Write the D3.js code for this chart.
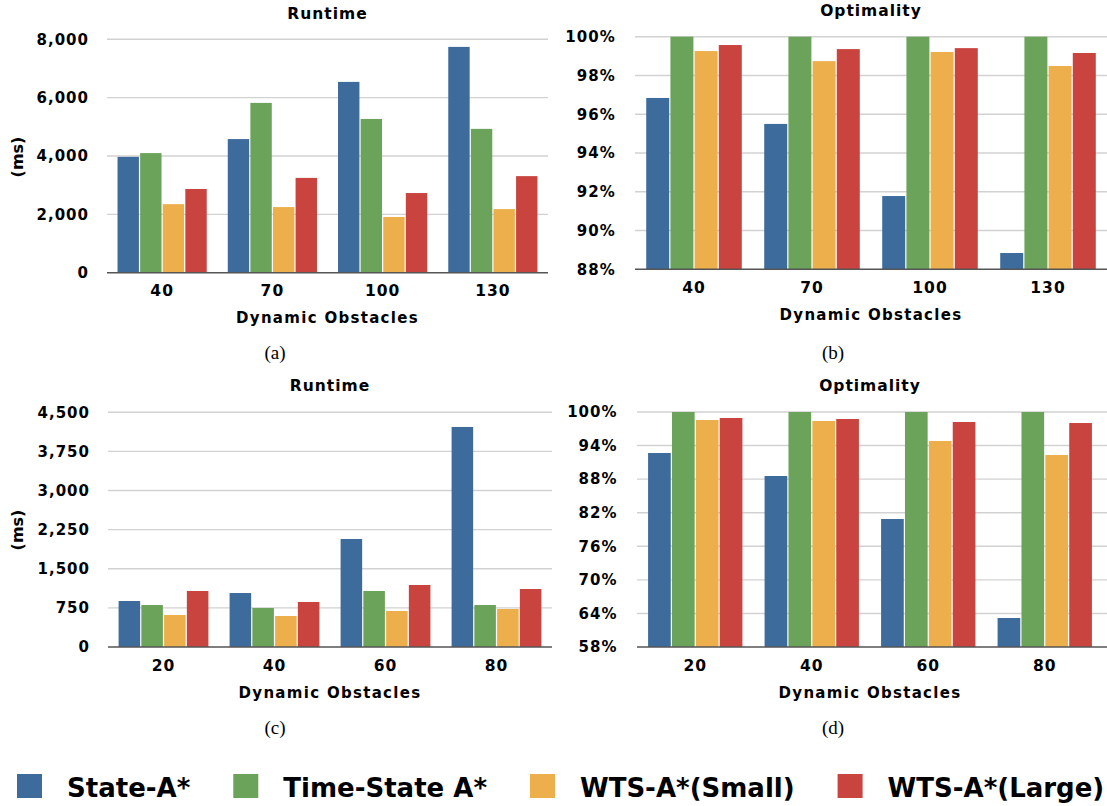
<!DOCTYPE html>
<html>
<head>
<meta charset="utf-8">
<script src="https://cdn.jsdelivr.net/npm/d3@7"></script>
<style>
  body { margin: 0; background: #fff; }
  svg text { font-family: 'DejaVu Sans', sans-serif; font-weight: bold; fill: #000; }
  svg text.caption { font-family: 'Liberation Serif', serif; font-weight: normal; }
</style>
</head>
<body>
<div id="chart-area"></div>
<script>
// SERIES
const seriesNames = ['State-A*', 'Time-State A*', 'WTS-A*(Small)', 'WTS-A*(Large)']
const seriesColors = ['#3d6b9c', '#6ca35a', '#edaf4c', '#c9433f']

// PANEL (a) - RUNTIME
const obstaclesA = ['40', '70', '100', '130']
const runtimeAState = [3970, 4580, 6540, 7740]
const runtimeATime = [4100, 5820, 5270, 4930]
const runtimeASmall = [2350, 2250, 1910, 2180]
const runtimeALarge = [2870, 3250, 2730, 3310]
const runtimeATicks = [0, 2000, 4000, 6000, 8000]

// PANEL (b) - OPTIMALITY
const obstaclesB = ['40', '70', '100', '130']
const optimalityBState = [96.84, 95.50, 91.78, 88.84]
const optimalityBTime = [100, 100, 100, 100]
const optimalityBSmall = [99.26, 98.74, 99.21, 98.49]
const optimalityBLarge = [99.57, 99.36, 99.41, 99.16]
const optimalityBTicks = [88, 90, 92, 94, 96, 98, 100]

// PANEL (c) - RUNTIME
const obstaclesC = ['20', '40', '60', '80']
const runtimeCState = [882, 1035, 2071, 4219]
const runtimeCTime = [805, 748, 1074, 805]
const runtimeCSmall = [614, 594, 690, 729]
const runtimeCLarge = [1074, 863, 1189, 1112]
const runtimeCTicks = [0, 750, 1500, 2250, 3000, 3750, 4500]

// PANEL (d) - OPTIMALITY
const obstaclesD = ['20', '40', '60', '80']
const optimalityDState = [92.67, 88.56, 80.88, 63.18]
const optimalityDTime = [100, 100, 100, 100]
const optimalityDSmall = [98.57, 98.39, 94.82, 92.31]
const optimalityDLarge = [98.93, 98.75, 98.21, 98.03]
const optimalityDTicks = [58, 64, 70, 76, 82, 88, 94, 100]

// SET HTML TARGET
const svg = d3.select('#chart-area')
              .append('svg')
              .attr('width', 1107)
              .attr('height', 806)

const commaFormat = d3.format(',')
const pctFormat = d => d + '%'

// DRAW ONE PANEL
const drawPanel = p => {
    const x0 = d3.scaleBand()
                 .domain(p.categories)
                 .range([p.left, p.right])
    const pad = x0.bandwidth() * 0.09
    const x1 = d3.scaleBand()
                 .domain(d3.range(seriesNames.length))
                 .range([pad, x0.bandwidth() - pad])
    const y = d3.scaleLinear()
                .domain(d3.extent(p.ticks))
                .range([p.bottom, p.top])

    const g = svg.append('g').attr('class', 'panel')

    // GRIDLINES
    g.selectAll('line.grid')
     .data(p.ticks.slice(1))
     .enter()
     .append('line')
     .attr('class', 'grid')
     .attr('x1', p.left)
     .attr('x2', p.gridEnd || p.right)
     .attr('y1', d => y(d))
     .attr('y2', d => y(d))
     .attr('stroke', '#d2d2d2')
     .attr('stroke-width', 1.4)

    // Y AXIS LABELS
    const yAxisCall = d3.axisLeft(y)
                        .tickValues(p.ticks)
                        .tickFormat(p.format)
                        .tickSize(0)
                        .tickPadding(0)
    const yAxisGroup = g.append('g')
                        .attr('transform', 'translate(' + p.labelRight + ',0)')
                        .call(yAxisCall)
    yAxisGroup.select('.domain').remove()
    yAxisGroup.selectAll('text')
              .attr('font-size', '15px')
              .attr('font-family', null)
              .attr('letter-spacing', '1px')
              .attr('fill', '#000')

    // BARS
    const rows = p.categories.map((c, i) => ({ cat: c, values: p.values.map(s => s[i]) }))
    const groups = g.selectAll('g.group')
                    .data(rows)
                    .enter()
                    .append('g')
                    .attr('class', 'group')
                    .attr('transform', d => 'translate(' + x0(d.cat) + ',0)')
    groups.selectAll('rect')
          .data(d => d.values)
          .enter()
          .append('rect')
          .attr('x', (d, i) => x1(i) + 0.6)
          .attr('y', d => y(d))
          .attr('width', x1.bandwidth() - 1.2)
          .attr('height', d => p.bottom - y(d))
          .attr('fill', (d, i) => seriesColors[i])

    // X AXIS
    const xAxisCall = d3.axisBottom(x0).tickSize(0).tickPadding(0)
    const xAxisGroup = g.append('g')
                        .attr('transform', 'translate(0,' + p.bottom + ')')
                        .call(xAxisCall)
    xAxisGroup.select('.domain')
              .attr('stroke', '#555')
              .attr('stroke-width', 1.6)
              .attr('d', 'M' + p.left + ',0H' + (p.gridEnd || p.right))
    xAxisGroup.selectAll('text')
              .attr('font-size', '15.5px')
              .attr('font-family', null)
              .attr('letter-spacing', '1px')
              .attr('fill', '#000')
              .attr('dy', null)
              .attr('y', p.xLabelY - p.bottom)

    const mid = (p.left + p.right) / 2

    // TITLE
    g.append('text')
     .attr('x', mid)
     .attr('y', p.titleY)
     .attr('text-anchor', 'middle')
     .attr('font-size', '15.5px')
     .attr('letter-spacing', '1px')
     .text(p.title)

    // X AXIS TITLE
    g.append('text')
     .attr('x', mid)
     .attr('y', p.axisTitleY)
     .attr('text-anchor', 'middle')
     .attr('font-size', '15px')
     .attr('letter-spacing', '1.3px')
     .text('Dynamic Obstacles')

    // Y AXIS TITLE
    if (p.yTitle) {
        g.append('text')
         .attr('transform', 'translate(' + p.yTitleX + ',' + p.yTitleMid + ') rotate(-90)')
         .attr('text-anchor', 'middle')
         .attr('font-size', '16px')
         .text(p.yTitle)
    }

    // CAPTION
    g.append('text')
     .attr('class', 'caption')
     .attr('x', p.captionX)
     .attr('y', p.captionY)
     .attr('text-anchor', 'middle')
     .attr('font-size', '19px')
     .text(p.caption)
}

drawPanel({
    categories: obstaclesA,
    values: [runtimeAState, runtimeATime, runtimeASmall, runtimeALarge],
    ticks: runtimeATicks, format: commaFormat,
    left: 107, right: 548, top: 39.3, bottom: 272.7, labelRight: 89,
    title: 'Runtime', titleY: 18.5, xLabelY: 296, axisTitleY: 322.7,
    yTitle: '(ms)', yTitleX: 23, yTitleMid: 157,
    caption: '(a)', captionX: 275, captionY: 359
})

drawPanel({
    categories: obstaclesB,
    values: [optimalityBState, optimalityBTime, optimalityBSmall, optimalityBLarge],
    ticks: optimalityBTicks, format: pctFormat,
    left: 635, right: 1107, top: 36.7, bottom: 269.3, labelRight: 615.7,
    title: 'Optimality', titleY: 15.5, xLabelY: 293, axisTitleY: 320,
    caption: '(b)', captionX: 833, captionY: 359
})

drawPanel({
    categories: obstaclesC,
    values: [runtimeCState, runtimeCTime, runtimeCSmall, runtimeCLarge],
    ticks: runtimeCTicks, format: commaFormat,
    left: 108, right: 552, top: 412.3, bottom: 647, labelRight: 90,
    title: 'Runtime', titleY: 391, xLabelY: 671, axisTitleY: 698,
    yTitle: '(ms)', yTitleX: 23, yTitleMid: 530,
    caption: '(c)', captionX: 275, captionY: 734
})

drawPanel({
    categories: obstaclesD,
    values: [optimalityDState, optimalityDTime, optimalityDSmall, optimalityDLarge],
    ticks: optimalityDTicks, format: pctFormat,
    left: 637, right: 1103, gridEnd: 1107, top: 412, bottom: 647, labelRight: 617.5,
    title: 'Optimality', titleY: 391, xLabelY: 671, axisTitleY: 698,
    caption: '(d)', captionX: 833, captionY: 734
})

// LEGEND
const legend = svg.append('g').attr('class', 'legend')
let legendX = 17
seriesNames.forEach((name, i) => {
    legend.append('rect')
          .attr('x', legendX)
          .attr('y', 774)
          .attr('width', 25)
          .attr('height', 24)
          .attr('fill', seriesColors[i])
    const t = legend.append('text')
                    .attr('x', legendX + 50)
                    .attr('y', 797)
                    .attr('font-size', '26px')
                    .text(name)
    legendX += 50 + t.node().getComputedTextLength() + 43
})
</script>
</body>
</html>
